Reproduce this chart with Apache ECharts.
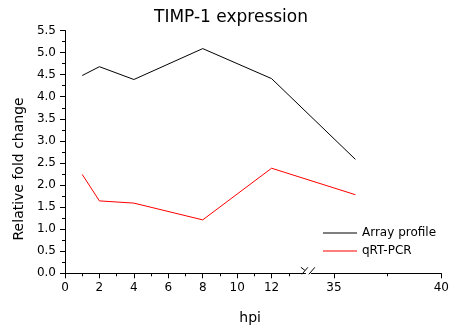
<!DOCTYPE html>
<html>
<head>
<meta charset="utf-8">
<script src="https://cdn.jsdelivr.net/npm/echarts@6/dist/echarts.min.js"></script>
<style>html,body{margin:0;padding:0;background:#fff}#c{width:452px;height:333px}</style>
</head>
<body>
<div id="c"></div>
<script>
// ---- data ----
const hpi = [1, 2, 4, 8, 12, 36];
const arrayProfile = [4.48, 4.68, 4.39, 5.09, 4.41, 2.58];
const qrtPcr = [2.24, 1.64, 1.59, 1.21, 2.38, 1.78];
const hpiTicks = [0, 2, 4, 6, 8, 10, 12, 35, 40];
const hpiMinorTicks = [1, 3, 5, 7, 9, 11, 13, 37.5];
const seriesNames = ['Array profile', 'qRT-PCR'];

// ---- broken x axis scale (0-14 | 33.7-40) ----
const axisBreak = { from: 14, to: 33.7, ratio: 1.248 };
function toAxis(x) { return x <= axisBreak.from ? x : axisBreak.from + (x - axisBreak.to) * axisBreak.ratio; }
function fromAxis(u) { return u <= axisBreak.from ? u : axisBreak.to + (u - axisBreak.from) / axisBreak.ratio; }
const xMax = toAxis(40);

const FONT = 'DejaVu Sans';
const chart = echarts.init(document.getElementById('c'), null, { renderer: 'canvas' });

const baseX = {
  type: 'value', min: 0, max: xMax, gridIndex: 0, position: 'bottom',
  splitLine: { show: false },
  axisLine: { onZero: false }
};

chart.setOption({
  animation: false,
  backgroundColor: '#fff',
  title: {
    text: 'TIMP-1 expression', left: 154, top: 9, padding: 0,
    textStyle: { fontFamily: FONT, fontSize: 17, fontWeight: 'normal', color: '#000' }
  },
  grid: { left: 65, right: 9, top: 30.5, bottom: 59.7, containLabel: false },
  legend: {
    data: seriesNames, orient: 'vertical', left: 323, top: 227,
    icon: 'rect', itemWidth: 34, itemHeight: 1, itemGap: 6, padding: 0,
    textStyle: { fontFamily: FONT, fontSize: 12, color: '#000', lineHeight: 12 }
  },
  xAxis: [
    Object.assign({}, baseX, {
      name: 'hpi', nameLocation: 'middle', nameGap: 38,
      nameTextStyle: { fontFamily: FONT, fontSize: 14, color: '#000', padding: [0, 6, 0, 0] },
      axisLine: { show: true, onZero: false, lineStyle: { color: '#000', width: 1 } },
      axisTick: { show: true, inside: false, length: 5, customValues: hpiTicks.map(toAxis), lineStyle: { color: '#000' } },
      axisLabel: {
        show: true, margin: 9, customValues: hpiTicks.map(toAxis),
        fontFamily: FONT, fontSize: 12, color: '#000',
        formatter: v => String(Math.round(fromAxis(v) * 10) / 10)
      }
    }),
    Object.assign({}, baseX, {
      axisLine: { show: false, onZero: false },
      axisTick: { show: true, inside: false, length: 3, customValues: hpiMinorTicks.map(toAxis), lineStyle: { color: '#000' } },
      axisLabel: { show: false }
    })
  ],
  yAxis: {
    type: 'value', min: 0, max: 5.5, interval: 0.5,
    name: 'Relative fold change', nameLocation: 'middle', nameGap: 38,
    nameTextStyle: { fontFamily: FONT, fontSize: 14, color: '#000', padding: [0, 34, 0, 0] },
    axisLine: { show: true, onZero: false, lineStyle: { color: '#000', width: 1 } },
    axisTick: { show: true, inside: false, length: 5, lineStyle: { color: '#000' } },
    minorTick: { show: true, splitNumber: 2, length: 3, lineStyle: { color: '#000' } },
    splitLine: { show: false },
    axisLabel: { margin: 9, fontFamily: FONT, fontSize: 12, color: '#000', formatter: v => v.toFixed(1) }
  },
  series: [
    {
      name: seriesNames[0], type: 'line', symbol: 'none', xAxisIndex: 0,
      lineStyle: { color: '#000', width: 1 }, itemStyle: { color: '#000' },
      data: hpi.map((x, i) => [toAxis(x), arrayProfile[i]])
    },
    {
      name: seriesNames[1], type: 'line', symbol: 'none', xAxisIndex: 0,
      lineStyle: { color: '#ff0000', width: 1 }, itemStyle: { color: '#ff0000' },
      data: hpi.map((x, i) => [toAxis(x), qrtPcr[i]])
    },
    {
      name: 'axisBreak', type: 'custom', xAxisIndex: 0, clip: false, silent: true, z: 10,
      data: [[axisBreak.from + 0.05, 0]],
      renderItem: (params, api) => {
        const p = api.coord([api.value(0), api.value(1)]);
        return {
          type: 'group',
          children: [
            { type: 'rect', shape: { x: p[0] - 1, y: p[1] - 1.5, width: 5, height: 3 }, style: { fill: '#fff' } },
            { type: 'line', shape: { x1: p[0] - 6, y1: p[1] - 6, x2: p[0] - 2, y2: p[1] - 3 }, style: { stroke: '#000', lineWidth: 1 } },
            { type: 'line', shape: { x1: p[0] - 5, y1: p[1] + 1, x2: p[0] + 1, y2: p[1] - 6 }, style: { stroke: '#000', lineWidth: 1 } },
            { type: 'line', shape: { x1: p[0] + 2, y1: p[1] + 1, x2: p[0] + 8, y2: p[1] - 6 }, style: { stroke: '#000', lineWidth: 1 } }
          ]
        };
      }
    }
  ]
});
</script>
</body>
</html>
